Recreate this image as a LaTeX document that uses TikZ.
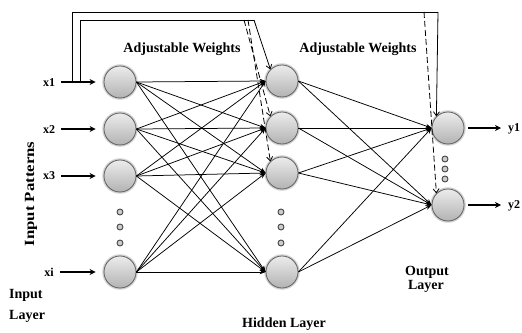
\documentclass[tikz,border=0pt]{standalone}
\usepackage{fontspec}
\setmainfont{Liberation Serif}
\usetikzlibrary{arrows.meta}
\begin{document}
\begin{tikzpicture}[x=1pt,y=-1pt,
  neuron/.style={circle, minimum size=32pt, inner sep=0pt, draw=gray!75!black, line width=0.8pt,
    top color=gray!15, bottom color=gray!60, preaction={draw=gray!35, line width=3.5pt}},
  dotc/.style={circle, minimum size=6pt, inner sep=0pt, draw=gray!55!black, fill=gray!40, line width=0.9pt},
  conn/.style={line width=0.75pt, -{Stealth[length=6pt,width=4.5pt]}},
  inarrow/.style={line width=2.4pt, -{Stealth[length=6pt,width=6pt]}},
  fb/.style={line width=0.8pt},
  fbarrow/.style={line width=0.8pt, -{Straight Barb[length=4pt,width=6pt]}},
  lbl/.style={font=\bfseries\fontsize{14}{16}\selectfont, inner sep=0pt},
  xl/.style={font=\bfseries\fontsize{12}{14}\selectfont, inner sep=0pt},
]
\useasboundingbox (0,0) rectangle (522,332);

% neurons
\node[neuron] (i1) at (120,82) {};
\node[neuron] (i2) at (120,129) {};
\node[neuron] (i3) at (120,176) {};
\node[neuron] (i4) at (120,272) {};
\node[neuron] (h1) at (282,81) {};
\node[neuron] (h2) at (282,128) {};
\node[neuron] (h3) at (282,173) {};
\node[neuron] (h4) at (282,272) {};
\node[neuron] (o1) at (448,128) {};
\node[neuron] (o2) at (448,205) {};

% ellipsis dots
\node[dotc] (di1) at (120,212) {};
\node[dotc] (di2) at (120,227) {};
\node[dotc] (di3) at (120,243) {};
\node[dotc] (dh1) at (281,212) {};
\node[dotc] (dh2) at (281,227) {};
\node[dotc] (dh3) at (281,243) {};
\node[dotc] (do1) at (445,159) {};
\node[dotc] (do2) at (445,169) {};
\node[dotc] (do3) at (445,179) {};

% connections
\foreach \a in {1,...,4}{
  \foreach \b in {1,...,4}{
    \draw[conn] (i\a.east) -- (h\b.west);
  }
  \foreach \b in {1,2}{
    \draw[conn] (h\a.east) -- (o\b.west);
  }
}

% input labels and arrows
\node[xl, anchor=base] (lx1) at (49,86) {x1};
\node[xl, anchor=base] (lx2) at (49,133) {x2};
\node[xl, anchor=base] (lx3) at (49,179) {x3};
\node[xl, anchor=base] (lx4) at (49,276) {xi};
\foreach \k in {1,...,4}{
  \draw[inarrow, shorten <=6pt, shorten >=8pt] (lx\k.east |- i\k) -- (i\k.west);
}

% output labels and arrows
\node[xl, anchor=base west] (ly1) at (508,131) {y1};
\node[xl, anchor=base west] (ly2) at (508,208) {y2};
\draw[inarrow, shorten <=4pt, shorten >=7pt] (o1.east) -- (ly1.west |- o1);
\draw[inarrow, shorten <=4pt, shorten >=7pt] (o2.east) -- (ly2.west |- o2);

% feedback paths
\coordinate (fa) at (72,82);
\coordinate (fb1) at (72,12);
\coordinate (fc) at (438,12);
\coordinate (fd) at (424,12);
\coordinate (ga) at (80,82);
\coordinate (gb) at (80,20);
\coordinate (gc) at (254,20);
\coordinate (gd) at (244,20);
\coordinate (ge) at (248,20);
\draw[fb] (fa) -- (fb1) -- (fc);
\draw[fbarrow] (fc) -- (o1.north west);
\draw[fbarrow, dashed, dash pattern=on 6pt off 3pt] (fd) -- (o2.north west);
\draw[fb] (ga) -- (gb) -- (gc);
\draw[fbarrow] (gc) -- (h1.north west);
\draw[fbarrow, dashed, dash pattern=on 6pt off 3pt] (gd) -- (h2.north west);
\draw[fbarrow, dashed, dash pattern=on 6pt off 3pt] (ge) -- (h3.north west);

% text labels
\node[lbl, anchor=base] (aw1) at (182,52) {Adjustable Weights};
\node[lbl, anchor=base] (aw2) at (358,52) {Adjustable Weights};
\node[lbl, rotate=90] (ip) at (31,194) {\scalebox{1.2}[1]{Input Patterns}};
\node[lbl, anchor=base west] (il1) at (9,298) {Input};
\node[lbl, anchor=base west] (il2) at (9,319) {Layer};
\node[lbl, anchor=base] (hl) at (284,327) {Hidden Layer};
\node[lbl, anchor=base] (ol1) at (427,275) {Output};
\node[lbl, anchor=base] (ol2) at (426,289) {Layer};
\end{tikzpicture}
\end{document}
